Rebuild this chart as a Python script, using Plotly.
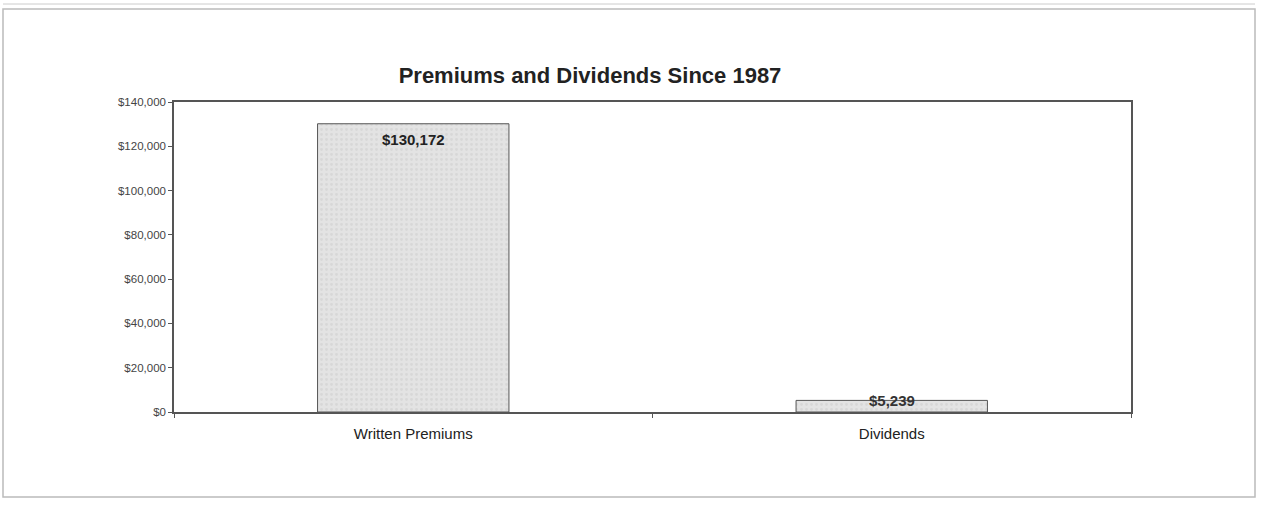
import plotly.graph_objects as go

categories = ["Written Premiums", "Dividends"]
values = [130172, 5239]
labels = ["$130,172", "$5,239"]
tick_vals = [0, 20000, 40000, 60000, 80000, 100000, 120000, 140000]
tick_text = ["$0", "$20,000", "$40,000", "$60,000", "$80,000", "$100,000", "$120,000", "$140,000"]

W, H = 1263, 508
L, R, T, B = 174, 132, 102, 96
pw, ph = W - L - R, H - T - B

def px(x):
    return (x - L) / pw

def py(y):
    return 1 - (y - T) / ph

FONT = "Liberation Sans, Arial"

fig = go.Figure()
fig.add_trace(go.Bar(
    x=categories, y=values, width=0.4,
    marker=dict(color="#e0e0e0", line=dict(color="#555555", width=1),
                pattern=dict(shape=".", fgcolor="#cccccc", bgcolor="#e3e3e3",
                             size=5, solidity=0.25)),
    hoverinfo="skip",
))

fig.add_annotation(x=categories[0], y=values[0], text="<b>" + labels[0] + "</b>",
                   showarrow=False, yanchor="middle", yshift=-16,
                   font=dict(family=FONT, size=15, color="#222222"))
fig.add_annotation(x=categories[1], y=values[1], text="<b>" + labels[1] + "</b>",
                   showarrow=False, yanchor="middle", yshift=0,
                   font=dict(family=FONT, size=15, color="#333333"))

# outer chart frame
fig.add_shape(type="rect", xref="paper", yref="paper",
              x0=px(3), x1=px(1255), y0=py(9), y1=py(497),
              line=dict(color="#bbbbbb", width=1.5), layer="below")
fig.add_shape(type="line", xref="paper", yref="paper",
              x0=px(3), x1=px(1255), y0=py(4), y1=py(4),
              line=dict(color="#cccccc", width=1), layer="below")

fig.update_layout(
    width=W, height=H,
    margin=dict(l=L, r=R, t=T, b=B),
    paper_bgcolor="white", plot_bgcolor="white",
    showlegend=False,
    title=dict(text="<b>Premiums and Dividends Since 1987</b>",
               xref="container", x=590 / W, xanchor="center",
               yref="container", y=1 - 75 / H, yanchor="middle",
               font=dict(family=FONT, size=22, color="#222222")),
    font=dict(family=FONT, color="#333333"),
)
fig.update_yaxes(range=[0, 140000], tickvals=tick_vals, ticktext=tick_text,
                 showgrid=False, zeroline=False,
                 showline=True, linecolor="#555555", linewidth=1.5, mirror=True,
                 ticks="outside", ticklen=4, tickcolor="#555555",
                 tickfont=dict(size=11.5, color="#444444"))
fig.update_xaxes(showgrid=False, showline=True, linecolor="#555555", linewidth=1.5, mirror=True,
                 ticks="outside", ticklen=4, tickcolor="#555555", tickson="boundaries",
                 ticklabelstandoff=7,
                 tickfont=dict(size=15, color="#222222"))

fig.write_html("out.html", config={"displayModeBar": False},
               post_script="document.body.style.margin='0';")
